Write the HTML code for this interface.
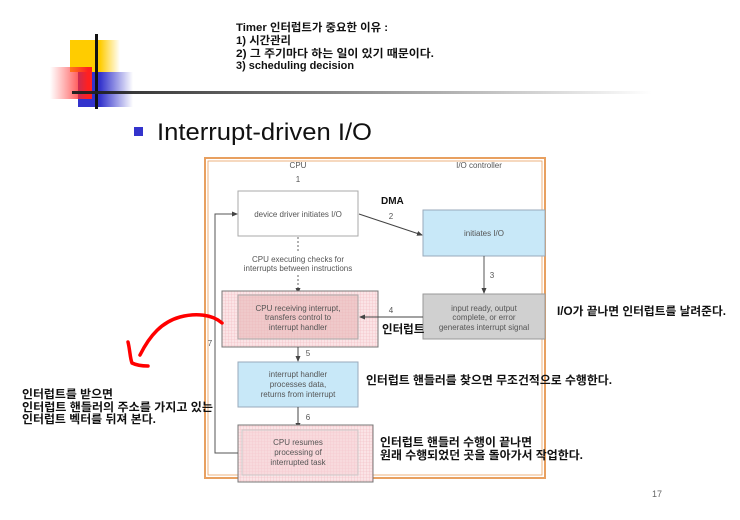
<!DOCTYPE html>
<html><head><meta charset="utf-8"><style>
body{margin:0;background:#fff;}
svg{display:block}
.k{font-family:"Liberation Sans","Noto Sans CJK KR",sans-serif;font-weight:bold;fill:#111;}
.d{font-family:"Liberation Sans",sans-serif;fill:#555;font-size:8px;text-anchor:middle;}
</style></head><body>
<svg width="740" height="520" viewBox="0 0 740 520" xmlns="http://www.w3.org/2000/svg">
<defs>
<linearGradient id="gy" x1="0" x2="1"><stop offset="0.6" stop-color="#ffcc00"/><stop offset="1" stop-color="#ffcc00" stop-opacity="0"/></linearGradient>
<linearGradient id="gr" x1="1" x2="0"><stop offset="0.1" stop-color="#ff2020"/><stop offset="1" stop-color="#ff4040" stop-opacity="0"/></linearGradient>
<linearGradient id="gb" x1="0" x2="1"><stop offset="0.4" stop-color="#3333cc"/><stop offset="1" stop-color="#3333cc" stop-opacity="0"/></linearGradient>
<linearGradient id="gl" x1="0" x2="1"><stop offset="0" stop-color="#222"/><stop offset="1" stop-color="#222" stop-opacity="0"/></linearGradient>
<pattern id="pk" width="3" height="3" patternUnits="userSpaceOnUse"><rect width="3" height="3" fill="#fbe4e6"/><path d="M0 0H3M0 0V3" stroke="#f2b8bf" stroke-width="0.6"/></pattern>
<marker id="ar" markerWidth="6" markerHeight="6" refX="5" refY="3" orient="auto"><path d="M0,0.5 L6,3 L0,5.5z" fill="#444"/></marker>
</defs>
<rect x="70" y="40" width="50" height="32" fill="url(#gy)"/>
<rect x="78" y="72" width="55" height="35" fill="url(#gb)"/>
<rect x="50" y="67" width="42" height="32" fill="url(#gr)"/>
<rect x="95" y="34" width="3" height="75" fill="#111"/>
<rect x="72" y="91" width="580" height="3" fill="url(#gl)"/>
<text class="k" font-size="11" lengthAdjust="spacingAndGlyphs">
<tspan x="236" y="31" textLength="152" lengthAdjust="spacingAndGlyphs">Timer 인터럽트가 중요한 이유 :</tspan></text>
<text class="k" font-size="11" x="236" y="44" textLength="55" lengthAdjust="spacingAndGlyphs">1) 시간관리</text>
<text class="k" font-size="11" x="236" y="57" textLength="198" lengthAdjust="spacingAndGlyphs">2) 그 주기마다 하는 일이 있기 때문이다.</text>
<text class="k" font-size="11" x="236" y="69" textLength="118" lengthAdjust="spacingAndGlyphs">3) scheduling decision</text>
<rect x="134" y="127" width="9" height="9" fill="#3333cc"/>
<text x="157" y="140" font-family="Liberation Sans,sans-serif" font-size="24" fill="#111" textLength="215" lengthAdjust="spacingAndGlyphs">Interrupt-driven I/O</text>
<rect x="205" y="158" width="340" height="320" fill="none" stroke="#e8a060" stroke-width="2"/>
<rect x="208" y="161" width="334" height="314" fill="none" stroke="#e8a060" stroke-width="0.8"/>
<text class="d" x="298" y="168">CPU</text>
<text class="d" x="479" y="168">I/O controller</text>
<text class="d" x="298" y="182">1</text>
<rect x="238" y="191" width="120" height="45" fill="#fff" stroke="#aaa"/>
<text class="d" x="298" y="217">device driver initiates I/O</text>
<text x="381" y="204" font-family="Liberation Sans,sans-serif" font-weight="bold" font-size="10" fill="#111">DMA</text>
<line x1="359" y1="214" x2="422" y2="235" stroke="#444" marker-end="url(#ar)"/>
<text class="d" x="391" y="219">2</text>
<rect x="423" y="210" width="122" height="46" fill="#c8e8f8" stroke="#9ab"/>
<text class="d" x="484" y="236">initiates I/O</text>
<line x1="298" y1="237" x2="298" y2="252" stroke="#666" stroke-dasharray="2,2"/>
<text class="d" x="298" y="262">CPU executing checks for</text>
<text class="d" x="298" y="271">interrupts between instructions</text>
<line x1="298" y1="275" x2="298" y2="293" stroke="#666" stroke-dasharray="2,2" marker-end="url(#ar)"/>
<line x1="484" y1="256" x2="484" y2="293" stroke="#555" marker-end="url(#ar)"/>
<text class="d" x="492" y="278">3</text>
<rect x="222" y="291" width="156" height="56" fill="url(#pk)" stroke="#777"/>
<rect x="238" y="295" width="120" height="44" fill="#e8b8b8" fill-opacity="0.6" stroke="#aaa"/>
<text class="d" x="298" y="311" fill="#777">CPU receiving interrupt,</text>
<text class="d" x="298" y="320" fill="#777">transfers control to</text>
<text class="d" x="298" y="330" fill="#777">interrupt handler</text>
<rect x="423" y="294" width="122" height="45" fill="#d0d0d0" stroke="#999"/>
<text class="d" x="484" y="311">input ready, output</text>
<text class="d" x="484" y="320">complete, or error</text>
<text class="d" x="484" y="330">generates interrupt signal</text>
<line x1="423" y1="317" x2="360" y2="317" stroke="#444" marker-end="url(#ar)"/>
<text class="d" x="391" y="313">4</text>
<text class="k" x="382" y="333" font-size="11.5">인터럽트</text>
<line x1="298" y1="347" x2="298" y2="361" stroke="#444" marker-end="url(#ar)"/>
<text class="d" x="308" y="356">5</text>
<rect x="238" y="362" width="120" height="45" fill="#c8e8f8" stroke="#9ab"/>
<text class="d" x="298" y="377">interrupt handler</text>
<text class="d" x="298" y="387">processes data,</text>
<text class="d" x="298" y="397">returns from interrupt</text>
<line x1="298" y1="407" x2="298" y2="428" stroke="#444" marker-end="url(#ar)"/>
<text class="d" x="308" y="420">6</text>
<rect x="238" y="425" width="135" height="57" fill="url(#pk)" stroke="#777"/>
<rect x="242" y="430" width="116" height="45" fill="#f6d0d4" fill-opacity="0.5" stroke="#ccc"/>
<text class="d" x="298" y="445" fill="#888">CPU resumes</text>
<text class="d" x="298" y="455" fill="#888">processing of</text>
<text class="d" x="298" y="465" fill="#888">interrupted task</text>
<polyline points="238,453 215,453 215,214 237,214" fill="none" stroke="#555" marker-end="url(#ar)"/>
<text class="d" x="210" y="346">7</text>
<text class="k" x="557" y="315" font-size="11.5" textLength="169" lengthAdjust="spacingAndGlyphs">I/O가 끝나면 인터럽트를 날려준다.</text>
<text class="k" x="366" y="384" font-size="11.5" textLength="246" lengthAdjust="spacingAndGlyphs">인터럽트 핸들러를 찾으면 무조건적으로 수행한다.</text>
<text class="k" x="380" y="446" font-size="11.5" textLength="152" lengthAdjust="spacingAndGlyphs">인터럽트 핸들러 수행이 끝나면</text>
<text class="k" x="380" y="459" font-size="11.5" textLength="203" lengthAdjust="spacingAndGlyphs">원래 수행되었던 곳을 돌아가서 작업한다.</text>
<text class="k" x="22" y="398" font-size="11.5" textLength="91" lengthAdjust="spacingAndGlyphs">인터럽트를 받으면</text>
<text class="k" x="22" y="411" font-size="11.5" textLength="191" lengthAdjust="spacingAndGlyphs">인터럽트 핸들러의 주소를 가지고 있는</text>
<text class="k" x="22" y="423" font-size="11.5" textLength="134" lengthAdjust="spacingAndGlyphs">인터럽트 벡터를 뒤져 본다.</text>
<path d="M222,323 C212,314 195,313 180,317 C162,322 150,335 140,355" fill="none" stroke="#ff0000" stroke-width="3.5" stroke-linecap="round"/>
<path d="M128,342 C130,350 130,358 132,363 C138,366 144,366 148,366" fill="none" stroke="#ff0000" stroke-width="3.5" stroke-linecap="round"/>
<text x="652" y="497" font-family="Liberation Sans,sans-serif" font-size="9" fill="#666">17</text>
</svg>
</body></html>
